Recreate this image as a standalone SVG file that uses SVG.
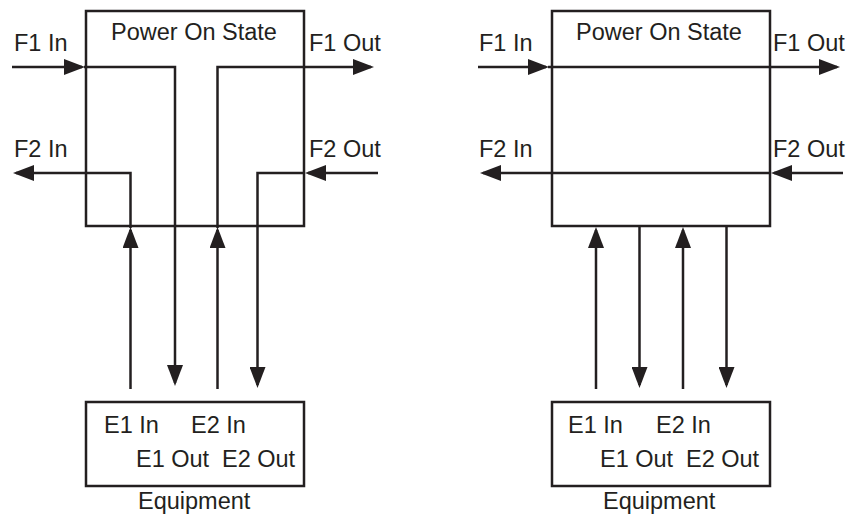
<svg xmlns="http://www.w3.org/2000/svg" width="847" height="516" viewBox="0 0 847 516">
<style>
.box{fill:none;stroke:#231f20;stroke-width:2.5}
.ln{fill:none;stroke:#231f20;stroke-width:2.5;stroke-linejoin:miter;marker-end:url(#ah)}
text{font-family:"Liberation Sans",Arial,Helvetica,sans-serif;font-size:23.5px;fill:#231f20}
</style>
<defs>
<marker id="ah" markerUnits="userSpaceOnUse" markerWidth="21" markerHeight="16" refX="18" refY="8" orient="auto" viewBox="0 0 21 16">
<path d="M0,0 L21,8 L0,16 z" fill="#231f20"/>
</marker>
</defs>
<rect width="847" height="516" fill="#fff"/>

<g id="left-state">
<rect class="box" x="86" y="11" width="218" height="215"/>
<text x="111" y="40">Power On State</text>
<text x="14" y="51">F1 In</text>
<text x="309" y="51">F1 Out</text>
<text x="14" y="157">F2 In</text>
<text x="309" y="157">F2 Out</text>
</g>
<g id="left-equipment">
<rect class="box" x="86" y="402" width="218" height="84"/>
<text x="104" y="433">E1 In</text>
<text x="191" y="433">E2 In</text>
<text x="136" y="467">E1 Out</text>
<text x="222" y="467">E2 Out</text>
<text x="138" y="509">Equipment</text>
</g>

<g id="right-state">
<rect class="box" x="552" y="11" width="218" height="215"/>
<text x="576" y="40">Power On State</text>
<text x="479" y="51">F1 In</text>
<text x="773" y="51">F1 Out</text>
<text x="479" y="157">F2 In</text>
<text x="773" y="157">F2 Out</text>
</g>
<g id="right-equipment">
<rect class="box" x="552" y="402" width="218" height="84"/>
<text x="568" y="433">E1 In</text>
<text x="656" y="433">E2 In</text>
<text x="600" y="467">E1 Out</text>
<text x="686" y="467">E2 Out</text>
<text x="603" y="509">Equipment</text>
</g>

<g id="connectors">
<!-- left -->
<path class="ln" d="M12,67 H82"/>
<path class="ln" d="M84,67 H175 V383"/>
<path class="ln" d="M217.5,389 V230"/>
<path class="ln" d="M217.5,228 V67 H371"/>
<path class="ln" d="M130.5,389 V230"/>
<path class="ln" d="M130.5,228 V173 H16"/>
<path class="ln" d="M378,173 H308"/>
<path class="ln" d="M305,173 H257.5 V385"/>
<!-- right -->
<path class="ln" d="M478,67 H546"/>
<path class="ln" d="M548,67 H837"/>
<path class="ln" d="M843,173 H774"/>
<path class="ln" d="M771,173 H483"/>
<path class="ln" d="M596,389 V230"/>
<path class="ln" d="M639.5,226 V385"/>
<path class="ln" d="M683,389 V230"/>
<path class="ln" d="M726.5,226 V385"/>
</g>
</svg>
